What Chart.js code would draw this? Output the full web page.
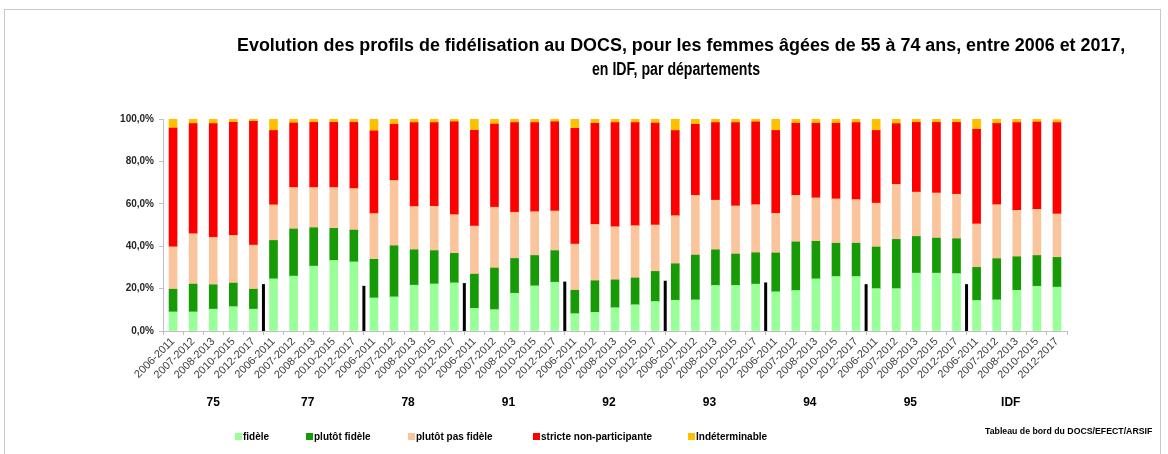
<!DOCTYPE html>
<html>
<head>
<meta charset="utf-8">
<script src="https://cdn.jsdelivr.net/npm/chart.js@4.4.1/dist/chart.umd.min.js"></script>
<style>
  body { margin: 0; background: #fff; font-family: "Liberation Sans", Arial, sans-serif; }
  #wrap { position: relative; width: 1168px; height: 454px; overflow: hidden; }
  #frame { position: absolute; left: 4px; top: 9px; width: 1155px; height: 470px; border: 1px solid #c8c8c8; }
  #chartBox { position: absolute; left: 0; top: 0; width: 1168px; height: 454px; }
  .title { position: absolute; font-weight: bold; font-size: 18px; line-height: 21px; color: #000; white-space: nowrap; transform-origin: left center; }
  .grp { position: absolute; top: 395px; font-weight: bold; font-size: 12px; color: #000; transform: translateX(-50%); }
  .leg { position: absolute; top: 431px; font-weight: bold; font-size: 10px; color: #000; white-space: nowrap; }
  .leg span.sq { display: inline-block; width: 7px; height: 7px; margin-right: 1px; vertical-align: 0px; }
  #source { position: absolute; top: 426px; font-weight: bold; font-size: 9px; color: #000; white-space: nowrap; transform-origin: left center; }
</style>
</head>
<body>
<div id="wrap">
  <div id="frame"></div>
  <div id="chartBox"><canvas id="chart"></canvas></div>
  <div class="title" data-x="237" data-y="35" data-w="888">Evolution des profils de fidélisation au DOCS, pour les femmes âgées de 55 à 74 ans, entre 2006 et 2017,</div>
  <div class="title" data-x="592" data-y="59" data-w="168">en IDF, par départements</div>
  <div id="source">Tableau de bord du DOCS/EFECT/ARSIF</div>
</div>
<script>
const periods = ["2006-2011", "2007-2012", "2008-2013", "2010-2015", "2012-2017"];
const departements = ["75", "77", "78", "91", "92", "93", "94", "95", "IDF"];

// parts in %, one value per bar (departement x period)
const fidele = [
  9.0, 9.0, 10.3, 11.5, 10.3,
  24.6, 25.9, 30.6, 33.3, 32.6,
  15.6, 16.1, 21.6, 22.2, 22.7,
  10.7, 10.1, 17.8, 21.3, 23.0,
  8.2, 8.8, 11.0, 12.4, 13.9,
  14.5, 14.7, 21.5, 21.5, 22.1,
  18.5, 19.1, 24.6, 25.7, 25.7,
  20.0, 20.0, 27.3, 27.3, 27.1,
  14.4, 14.7, 19.2, 21.1, 20.7
];
const plutotFidele = [
  10.7, 13.1, 11.5, 11.1, 9.4,
  18.1, 22.2, 18.1, 15.1, 15.0,
  18.2, 24.1, 16.7, 15.7, 13.9,
  16.1, 19.6, 16.4, 14.3, 14.9,
  11.0, 14.9, 13.1, 12.6, 14.2,
  17.2, 21.1, 16.8, 14.8, 14.8,
  18.3, 22.9, 17.7, 15.7, 15.7,
  19.6, 23.2, 17.3, 16.5, 16.4,
  15.6, 19.4, 15.8, 14.5, 14.0
];
const plutotPasFidele = [
  20.0, 23.8, 22.4, 22.5, 20.8,
  16.8, 19.6, 19.0, 19.3, 19.6,
  21.6, 30.8, 20.4, 20.9, 18.3,
  22.7, 28.7, 21.8, 20.7, 18.7,
  21.8, 26.6, 25.1, 24.7, 21.9,
  22.7, 28.2, 23.4, 22.7, 22.7,
  18.7, 22.0, 20.5, 20.9, 20.6,
  20.7, 26.0, 20.9, 21.3, 21.0,
  20.5, 25.5, 21.9, 21.8, 20.5
];
const stricteNonParticipante = [
  56.0, 51.9, 53.6, 53.3, 58.4,
  35.1, 30.4, 30.7, 30.7, 31.2,
  39.0, 26.5, 39.6, 39.5, 43.8,
  45.1, 39.2, 42.3, 42.0, 42.1,
  54.6, 47.6, 49.1, 48.6, 48.1,
  40.1, 33.5, 36.6, 39.3, 39.0,
  39.1, 34.0, 35.2, 35.7, 36.3,
  34.3, 28.6, 32.9, 33.3, 33.9,
  44.6, 38.3, 41.4, 41.2, 43.1
];
const indeterminable = [
  4.3, 2.2, 2.2, 1.6, 1.1,
  5.4, 1.9, 1.6, 1.6, 1.6,
  5.6, 2.5, 1.7, 1.7, 1.3,
  5.4, 2.4, 1.7, 1.7, 1.3,
  4.4, 2.1, 1.7, 1.7, 1.9,
  5.5, 2.5, 1.7, 1.7, 1.4,
  5.4, 2.0, 2.0, 2.0, 1.7,
  5.4, 2.2, 1.6, 1.6, 1.6,
  4.9, 2.1, 1.7, 1.4, 1.4
];
// height (%) of the black separators between departements
const separators = [22.1, 21.3, 22.6, 23.3, 23.7, 22.9, 22.1, 22.1];

const seriesNames = ["fidèle", "plutôt fidèle", "plutôt pas fidèle", "stricte non-participante", "Indéterminable"];
const seriesColors = ["#99FF99", "#169A06", "#FAC59D", "#FF0000", "#FFC000"];
const seriesData = [fidele, plutotFidele, plutotPasFidele, stricteNonParticipante, indeterminable];

const labels = [];
departements.forEach(() => periods.forEach(p => labels.push(p)));

const separatorPlugin = {
  id: "separators",
  afterDatasetsDraw(chart) {
    const { ctx, scales: { x, y } } = chart;
    ctx.save();
    ctx.strokeStyle = "#000";
    ctx.lineWidth = 3;
    separators.forEach((h, i) => {
      const k = (i + 1) * periods.length;
      const px = (x.getPixelForValue(k - 1) + x.getPixelForValue(k)) / 2;
      ctx.beginPath();
      ctx.moveTo(px, y.getPixelForValue(0));
      ctx.lineTo(px, y.getPixelForValue(h));
      ctx.stroke();
    });
    ctx.restore();
  }
};

const axisColor = "#bfbfbf";
const chart = new Chart(document.getElementById("chart"), {
  type: "bar",
  data: {
    labels: labels,
    datasets: seriesData.map((d, i) => ({
      label: seriesNames[i],
      data: d,
      backgroundColor: seriesColors[i],
      borderWidth: 0,
      barThickness: 8,
    })),
  },
  options: {
    animation: false,
    responsive: true,
    maintainAspectRatio: false,
    layout: { padding: { top: 119, right: 101, left: 0, bottom: 0 } },
    plugins: { legend: { display: false }, tooltip: { enabled: false } },
    scales: {
      x: {
        stacked: true,
        grid: { drawOnChartArea: false, tickLength: 4, color: axisColor },
        border: { color: axisColor },
        ticks: {
          autoSkip: false, minRotation: 45, maxRotation: 45, padding: 0,
          color: "#404040", font: { family: "Liberation Sans", size: 11 },
        },
        afterFit: (s) => { s.height = 123; },
      },
      y: {
        stacked: true,
        min: 0,
        max: 100,
        grid: { drawOnChartArea: false, tickLength: 4, color: axisColor },
        border: { color: axisColor },
        ticks: {
          stepSize: 20,
          padding: 5,
          color: "#262626",
          font: { family: "Liberation Sans", size: 10, weight: "bold" },
          callback: (v) => v.toFixed(1).replace(".", ",") + "%",
        },
        afterFit: (s) => { s.width = 163; },
      },
    },
  },
  plugins: [separatorPlugin],
});

// fit title lines to the reference width
const wrap = document.getElementById("wrap");
document.querySelectorAll(".title").forEach(el => {
  el.style.left = el.dataset.x + "px";
  el.style.top = el.dataset.y + "px";
  const w = el.offsetWidth;
  el.style.transform = `scaleX(${el.dataset.w / w})`;
});
const src = document.getElementById("source");
src.style.left = "985px";
src.style.transform = `scaleX(${167 / src.offsetWidth})`;

// departement names under each group of bars
const xs = chart.scales.x;
departements.forEach((d, i) => {
  const a = xs.getPixelForValue(i * periods.length);
  const b = xs.getPixelForValue(i * periods.length + periods.length - 1);
  const el = document.createElement("div");
  el.className = "grp";
  el.textContent = d;
  el.style.left = ((a + b) / 2 - (i ? 6 : 0)) + "px";
  wrap.appendChild(el);
});

// legend
const legendX = [235, 306, 408, 533, 688];
seriesNames.forEach((n, i) => {
  const el = document.createElement("div");
  el.className = "leg";
  el.style.left = legendX[i] + "px";
  el.innerHTML = `<span class="sq" style="background:${seriesColors[i]}"></span>`;
  el.appendChild(document.createTextNode(n));
  wrap.appendChild(el);
});
</script>
</body>
</html>
